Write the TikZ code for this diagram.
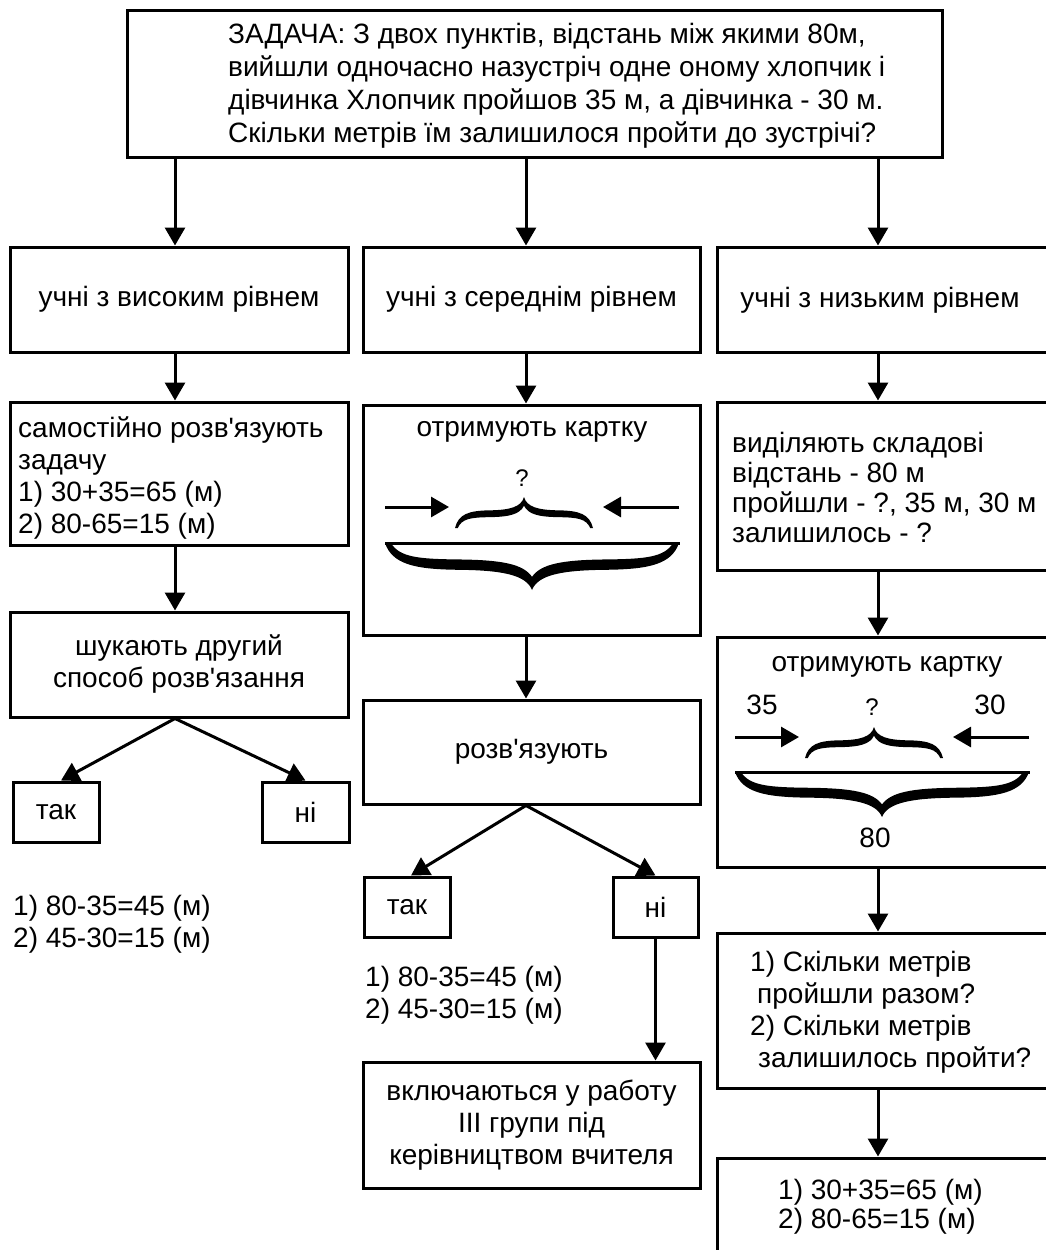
\documentclass[tikz,border=0pt]{standalone}
\usepackage{fontspec}
\setmainfont{Liberation Sans}
\usetikzlibrary{arrows.meta,calc}
\tikzset{
  curly/.pic={
    \fill (-1,0) .. controls (-0.95,0.45) and (-0.8,0.56) .. (-0.5,0.57)
      .. controls (-0.2,0.58) and (-0.04,0.68) .. (0,1)
      .. controls (0.04,0.68) and (0.2,0.58) .. (0.5,0.57)
      .. controls (0.8,0.56) and (0.95,0.45) .. (1,0)
      -- (0.96,0) .. controls (0.9,0.3) and (0.78,0.34) .. (0.5,0.35)
      .. controls (0.2,0.36) and (0.06,0.45) .. (0,0.72)
      .. controls (-0.06,0.45) and (-0.2,0.36) .. (-0.5,0.35)
      .. controls (-0.78,0.34) and (-0.9,0.3) .. (-0.96,0) -- cycle;
  }
}
\begin{document}
\begin{tikzpicture}[x=1pt,y=-1pt,
  box/.style={draw,line width=3pt,fill=white,inner sep=0pt,rectangle,align=center,
    font=\fontsize{28}{32}\selectfont},
  txt/.style={inner sep=0pt,font=\fontsize{28}{32}\selectfont},
  qmark/.style={inner sep=0pt,font=\fontsize{24}{28}\selectfont},
  arr/.style={line width=3pt,-{Triangle[width=20pt,length=18pt]}},
  seg/.style={line width=3pt}]
\useasboundingbox (0,0) rectangle (1046,1250);
\clip (0,0) rectangle (1046,1250);

\coordinate (cL) at (175,0);
\coordinate (cM) at (526,0);
\coordinate (cR) at (878,0);

% top
\node[box,minimum width=815,minimum height=147] (top) at (534.5,83.5) {};
\node[txt,anchor=west,align=left,font=\fontsize{28}{33}\selectfont] (toptx) at (228,86)
 {ЗАДАЧА: З двох пунктів, відстань між якими 80м,\\
  вийшли одночасно назустріч одне оному хлопчик і\\
  дівчинка Хлопчик пройшов 35 м, а дівчинка - 30 м.\\
  Скільки метрів їм залишилося пройти до зустрічі?};

% row 2
\node[box,minimum width=338,minimum height=105] (L2) at (179,299.5) {учні з високим рівнем};
\node[box,minimum width=337,minimum height=105] (M2) at (531.5,299.5) {учні з середнім рівнем};
\node[box,minimum width=343,minimum height=105] (R2) at (888.5,299.5) {};
\node[txt] (R2tx) at (880,300) {учні з низьким рівнем};

% left column
\node[box,minimum width=338,minimum height=143] (L3) at (179,473.5) {};
\node[txt,anchor=west,align=left] (L3tx) at (18,478)
 {самостійно розв\textquotesingle язують\\задачу\\1) 30+35=65 (м)\\2) 80-65=15 (м)};
\node[box,minimum width=338,minimum height=105] (L4) at (179,664.5)
 {шукають другий\\способ розв\textquotesingle язання};
\node[box,minimum width=86,minimum height=60] (Ltak) at (56,812) {так};
\node[box,minimum width=87,minimum height=60] (Lni) at (305.5,812) {ні};
\node[txt,anchor=west,align=left] (Ltx) at (13,924) {1) 80-35=45 (м)\\2) 45-30=15 (м)};

% middle column
\node[box,minimum width=337,minimum height=230] (M3) at (531.5,520) {};
\node[txt] (M3tx) at (532,432) {отримують картку};
\node[qmark] (M3q) at (522,478) {?};
\coordinate (ma1) at (385,507); \coordinate (ma2) at (449,507);
\coordinate (ma3) at (679,507); \coordinate (ma4) at (603,507);
\coordinate (mb1) at (385,543); \coordinate (mb2) at (680,543);
\draw[arr] (ma1) -- (ma2);
\draw[arr] (ma3) -- (ma4);
\draw[seg] (mb1) -- (mb2);
\pic[xscale=69,yscale=-31] at (524,528) {curly};
\pic[xscale=147,yscale=47] at (532,543) {curly};

\node[box,minimum width=337,minimum height=104] (M4) at (531.5,752) {розв\textquotesingle язують};
\node[box,minimum width=86,minimum height=60] (Mtak) at (407,907) {так};
\node[box,minimum width=85,minimum height=60] (Mni) at (655.5,907) {ні};
\node[txt,anchor=west,align=left] (Mtx) at (365,995) {1) 80-35=45 (м)\\2) 45-30=15 (м)};
\node[box,minimum width=337,minimum height=126] (M5) at (531.5,1125)
 {включаються у работу\\ІІІ групи під\\керівництвом вчителя};

% right column
\node[box,minimum width=343,minimum height=168] (R3) at (888.5,486) {};
\node[txt,anchor=west,align=left,font=\fontsize{28}{30}\selectfont] (R3tx) at (732,487)
 {виділяють складові\\відстань - 80 м\\пройшли - ?, 35 м, 30 м\\залишилось - ?};
\node[box,minimum width=343,minimum height=230] (R4) at (888.5,752) {};
\node[txt] (R4tx) at (887,667) {отримують картку};
\node[txt] (R4a) at (762,705) {35};
\node[qmark] (R4q) at (872,707) {?};
\node[txt] (R4b) at (990,705) {30};
\node[txt] (R4c) at (875,838) {80};
\coordinate (ra1) at (735,737); \coordinate (ra2) at (799,737);
\coordinate (ra3) at (1029,737); \coordinate (ra4) at (953,737);
\coordinate (rb1) at (735,772); \coordinate (rb2) at (1030,772);
\draw[arr] (ra1) -- (ra2);
\draw[arr] (ra3) -- (ra4);
\draw[seg] (rb1) -- (rb2);
\pic[xscale=69,yscale=-31] at (874,758) {curly};
\pic[xscale=147,yscale=45] at (882,772) {curly};

\node[box,minimum width=343,minimum height=155] (R5) at (888.5,1010.5) {};
\node[txt,anchor=west,align=left] (R5tx) at (750,1012)
 {1) Скільки метрів\\\hspace*{7pt}пройшли разом?\\2) Скільки метрів\\\hspace*{8pt}залишилось пройти?};
\node[box,minimum width=343,minimum height=142] (R6) at (888.5,1229) {};
\node[txt,anchor=west,align=left,font=\fontsize{28}{29}\selectfont] (R6tx) at (778,1207)
 {1) 30+35=65 (м)\\2) 80-65=15 (м)};

% connectors
\draw[arr] (top.south -| cL) -- (L2.north -| cL);
\draw[arr] (top.south -| cM) -- (M2.north -| cM);
\draw[arr] (top.south -| cR) -- (R2.north -| cR);

\draw[arr] (L2.south -| cL) -- (L3.north -| cL);
\draw[arr] (L3.south -| cL) -- (L4.north -| cL);
\draw[arr] (L4.south -| cL) -- ($(Ltak.north)+(5,0)$);
\draw[arr] (L4.south -| cL) -- (Lni.north);

\draw[arr] (M2.south -| cM) -- (M3.north -| cM);
\draw[arr] (M3.south -| cM) -- (M4.north -| cM);
\draw[arr] (M4.south -| cM) -- ($(Mtak.north)+(4,0)$);
\draw[arr] (M4.south -| cM) -- (Mni.north);
\draw[arr] (Mni.south) -- (M5.north -| Mni.south);

\draw[arr] (R2.south -| cR) -- (R3.north -| cR);
\draw[arr] (R3.south -| cR) -- (R4.north -| cR);
\draw[arr] (R4.south -| cR) -- (R5.north -| cR);
\draw[arr] (R5.south -| cR) -- (R6.north -| cR);
\end{tikzpicture}
\end{document}
